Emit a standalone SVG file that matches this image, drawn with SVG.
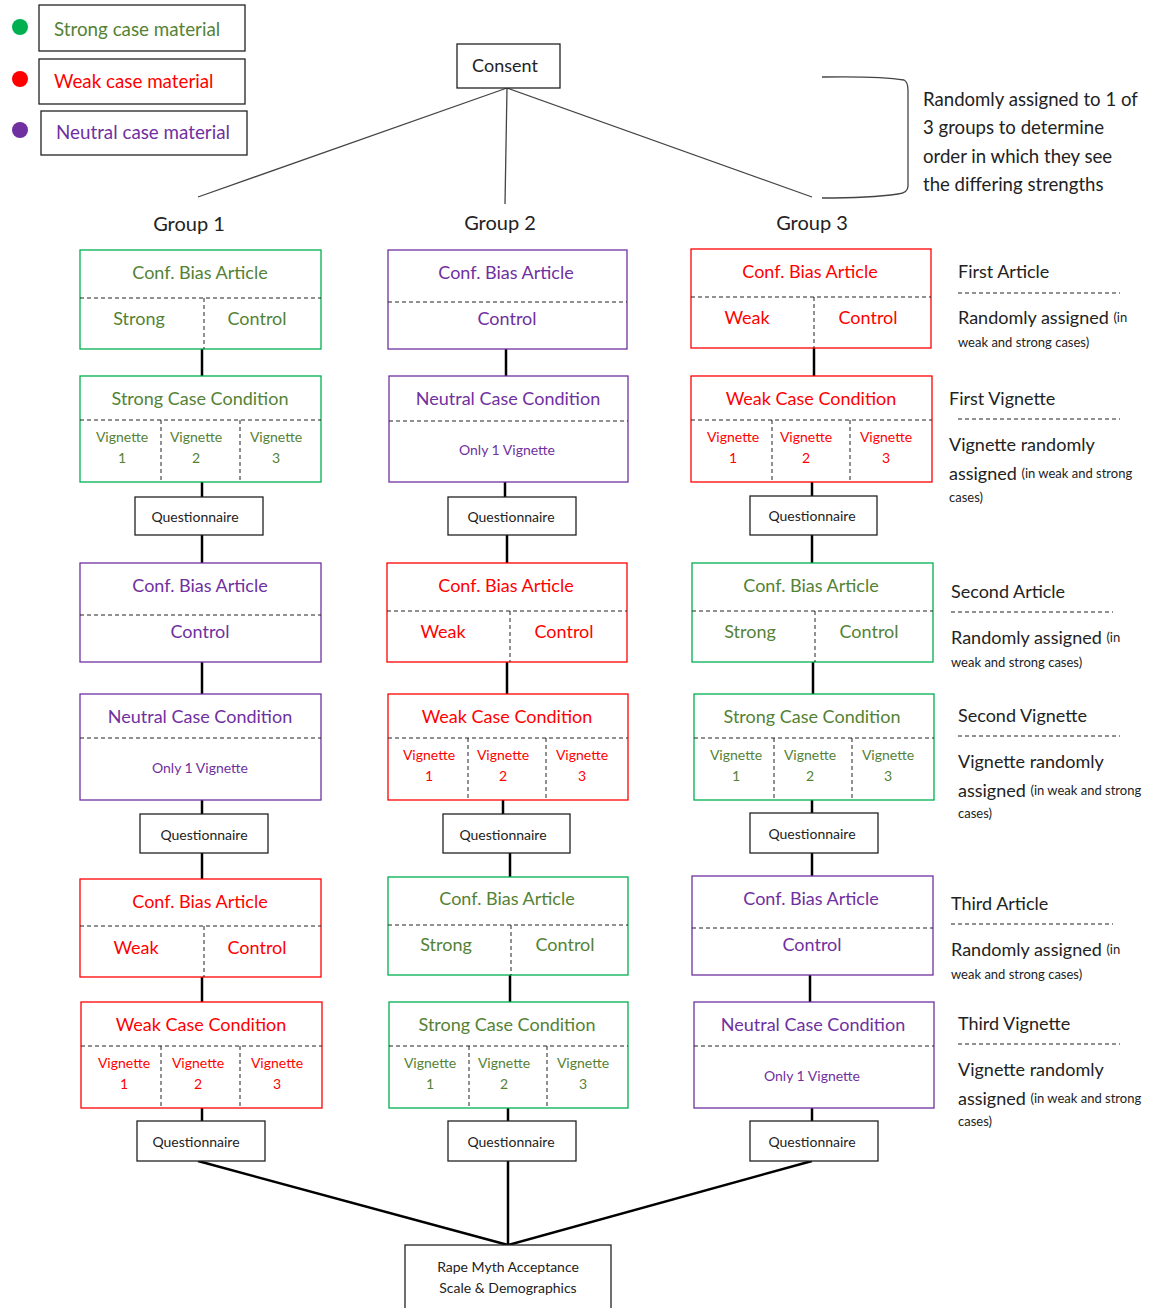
<svg xmlns="http://www.w3.org/2000/svg" width="1156" height="1308" viewBox="0 0 1156 1308">
<style>
text{font-family:Lato,"Open Sans","Liberation Sans",sans-serif;dominant-baseline:central;}
.c{text-anchor:middle}
.t{font-size:18px}
.lg{font-size:18.8px}
.s{font-size:14px}
.n{font-size:18px;fill:#222}
.nb{font-size:18.6px;fill:#222}
.sm{font-size:13px;fill:#222}
.g{fill:#548235}
.r{fill:#ff0000}
.p{fill:#7030a0}
.k{fill:#222}
.bg{fill:#fff;stroke:#00b050;stroke-width:1.3}
.br{fill:#fff;stroke:#ff0000;stroke-width:1.3}
.bp{fill:#fff;stroke:#7030a0;stroke-width:1.3}
.bk{fill:#fff;stroke:#222;stroke-width:1.3}
.d{stroke:#222;stroke-width:1;stroke-dasharray:4,3;fill:none}
.con{stroke:#000;stroke-width:2.5;fill:none}
.thin{stroke:#444;stroke-width:1.3;fill:none}
</style>

<g id="legend">
<circle cx="20" cy="27" r="8" fill="#00b050"/>
<circle cx="20" cy="79" r="8" fill="#ff0000"/>
<circle cx="20" cy="130" r="8" fill="#7030a0"/>
<rect x="39" y="5" width="206" height="46" class="bk"/>
<rect x="39" y="59" width="206" height="45" class="bk"/>
<rect x="41" y="111" width="206" height="44" class="bk"/>
<text x="54" y="28" class="lg g">Strong case material</text>
<text x="54" y="80" class="lg r">Weak case material</text>
<text x="56" y="131" class="lg p">Neutral case material</text>
</g>

<g id="connectors">
<line x1="507" y1="88" x2="198" y2="197" class="thin"/>
<line x1="507" y1="88" x2="505" y2="204" class="thin"/>
<line x1="507" y1="88" x2="812" y2="197" class="thin"/>
<path d="M822 77 Q880 76 904 80 Q908 82 908 90 L908 186 Q908 193 898 194 Q870 198 822 198" class="thin"/>
<line x1="202" y1="349" x2="202" y2="376" class="con"/>
<line x1="202" y1="482" x2="202" y2="497" class="con"/>
<line x1="202" y1="535" x2="202" y2="563" class="con"/>
<line x1="202" y1="662" x2="202" y2="694" class="con"/>
<line x1="202" y1="800" x2="202" y2="814" class="con"/>
<line x1="202" y1="853" x2="202" y2="879" class="con"/>
<line x1="202" y1="977" x2="202" y2="1002" class="con"/>
<line x1="202" y1="1108" x2="202" y2="1121" class="con"/>
<line x1="506" y1="349" x2="506" y2="376" class="con"/>
<line x1="505" y1="482" x2="505" y2="497" class="con"/>
<line x1="507" y1="535" x2="507" y2="563" class="con"/>
<line x1="507" y1="662" x2="507" y2="694" class="con"/>
<line x1="503" y1="800" x2="503" y2="814" class="con"/>
<line x1="510" y1="853" x2="510" y2="877" class="con"/>
<line x1="510" y1="975" x2="510" y2="1002" class="con"/>
<line x1="508" y1="1108" x2="508" y2="1121" class="con"/>
<line x1="814" y1="348" x2="814" y2="376" class="con"/>
<line x1="812" y1="482" x2="812" y2="496" class="con"/>
<line x1="812" y1="535" x2="812" y2="563" class="con"/>
<line x1="813" y1="662" x2="813" y2="694" class="con"/>
<line x1="812" y1="800" x2="812" y2="813" class="con"/>
<line x1="812" y1="853" x2="812" y2="876" class="con"/>
<line x1="810" y1="975" x2="810" y2="1002" class="con"/>
<line x1="812" y1="1108" x2="812" y2="1121" class="con"/>
<line x1="198" y1="1161" x2="508" y2="1245" class="con"/>
<line x1="508" y1="1161" x2="508" y2="1245" class="con"/>
<line x1="812" y1="1161" x2="508" y2="1245" class="con"/>
</g>

<g id="consent">
<rect x="457" y="44" width="103" height="44" class="bk"/>
<text x="505" y="65" class="c n">Consent</text>
</g>

<g id="bracket-note">
<text x="923" y="99" class="nb">Randomly assigned to 1 of</text>
<text x="923" y="127" class="nb">3 groups to determine</text>
<text x="923" y="156" class="nb">order in which they see</text>
<text x="923" y="184" class="nb">the differing strengths</text>
</g>

<g id="group-labels">
<text x="189" y="223" class="c k" font-size="20">Group 1</text>
<text x="500" y="222" class="c k" font-size="20">Group 2</text>
<text x="812" y="222" class="c k" font-size="20">Group 3</text>
</g>

<g id="g1-article1">
<rect x="80" y="250" width="241" height="99" class="bg"/>
<line x1="80" y1="298" x2="321" y2="298" class="d"/>
<line x1="204" y1="298" x2="204" y2="349" class="d"/>
<text x="200" y="272" class="c t g">Conf. Bias Article</text>
<text x="139" y="318" class="c t g">Strong</text>
<text x="257" y="318" class="c t g">Control</text>
</g>
<g id="g1-cond1">
<rect x="80" y="376" width="241" height="106" class="bg"/>
<line x1="80" y1="420" x2="321" y2="420" class="d"/>
<line x1="161" y1="420" x2="161" y2="482" class="d"/>
<line x1="240" y1="420" x2="240" y2="482" class="d"/>
<text x="200" y="398" class="c t g">Strong Case Condition</text>
<text x="122" y="436" class="c s g">Vignette</text><text x="122" y="457" class="c s g">1</text>
<text x="196" y="436" class="c s g">Vignette</text><text x="196" y="457" class="c s g">2</text>
<text x="276" y="436" class="c s g">Vignette</text><text x="276" y="457" class="c s g">3</text>
</g>
<g id="g1-q1">
<rect x="135" y="497" width="128" height="38" class="bk"/>
<text x="195" y="516" class="c s k">Questionnaire</text>
</g>
<g id="g1-article2">
<rect x="80" y="563" width="241" height="99" class="bp"/>
<line x1="80" y1="615" x2="321" y2="615" class="d"/>
<text x="200" y="585" class="c t p">Conf. Bias Article</text>
<text x="200" y="631" class="c t p">Control</text>
</g>
<g id="g1-cond2">
<rect x="80" y="694" width="241" height="106" class="bp"/>
<line x1="80" y1="738" x2="321" y2="738" class="d"/>
<text x="200" y="716" class="c t p">Neutral Case Condition</text>
<text x="200" y="767" class="c s p">Only 1 Vignette</text>
</g>
<g id="g1-q2">
<rect x="140" y="814" width="128" height="39" class="bk"/>
<text x="204" y="834" class="c s k">Questionnaire</text>
</g>
<g id="g1-article3">
<rect x="80" y="879" width="241" height="98" class="br"/>
<line x1="80" y1="926" x2="321" y2="926" class="d"/>
<line x1="204" y1="926" x2="204" y2="977" class="d"/>
<text x="200" y="901" class="c t r">Conf. Bias Article</text>
<text x="136" y="947" class="c t r">Weak</text>
<text x="257" y="947" class="c t r">Control</text>
</g>
<g id="g1-cond3">
<rect x="81" y="1002" width="241" height="106" class="br"/>
<line x1="81" y1="1046" x2="322" y2="1046" class="d"/>
<line x1="161" y1="1046" x2="161" y2="1108" class="d"/>
<line x1="240" y1="1046" x2="240" y2="1108" class="d"/>
<text x="201" y="1024" class="c t r">Weak Case Condition</text>
<text x="124" y="1062" class="c s r">Vignette</text><text x="124" y="1083" class="c s r">1</text>
<text x="198" y="1062" class="c s r">Vignette</text><text x="198" y="1083" class="c s r">2</text>
<text x="277" y="1062" class="c s r">Vignette</text><text x="277" y="1083" class="c s r">3</text>
</g>
<g id="g1-q3">
<rect x="137" y="1121" width="128" height="40" class="bk"/>
<text x="196" y="1141" class="c s k">Questionnaire</text>
</g>

<g id="g2-article1">
<rect x="388" y="250" width="239" height="99" class="bp"/>
<line x1="388" y1="302" x2="627" y2="302" class="d"/>
<text x="506" y="272" class="c t p">Conf. Bias Article</text>
<text x="507" y="318" class="c t p">Control</text>
</g>
<g id="g2-cond1">
<rect x="389" y="376" width="239" height="106" class="bp"/>
<line x1="389" y1="421" x2="628" y2="421" class="d"/>
<text x="508" y="398" class="c t p">Neutral Case Condition</text>
<text x="507" y="449" class="c s p">Only 1 Vignette</text>
</g>
<g id="g2-q1">
<rect x="448" y="497" width="128" height="38" class="bk"/>
<text x="511" y="516" class="c s k">Questionnaire</text>
</g>
<g id="g2-article2">
<rect x="387" y="563" width="240" height="99" class="br"/>
<line x1="387" y1="611" x2="627" y2="611" class="d"/>
<line x1="510" y1="611" x2="510" y2="662" class="d"/>
<text x="506" y="585" class="c t r">Conf. Bias Article</text>
<text x="443" y="631" class="c t r">Weak</text>
<text x="564" y="631" class="c t r">Control</text>
</g>
<g id="g2-cond2">
<rect x="388" y="694" width="240" height="106" class="br"/>
<line x1="388" y1="738" x2="628" y2="738" class="d"/>
<line x1="468" y1="738" x2="468" y2="800" class="d"/>
<line x1="546" y1="738" x2="546" y2="800" class="d"/>
<text x="507" y="716" class="c t r">Weak Case Condition</text>
<text x="429" y="754" class="c s r">Vignette</text><text x="429" y="775" class="c s r">1</text>
<text x="503" y="754" class="c s r">Vignette</text><text x="503" y="775" class="c s r">2</text>
<text x="582" y="754" class="c s r">Vignette</text><text x="582" y="775" class="c s r">3</text>
</g>
<g id="g2-q2">
<rect x="443" y="814" width="127" height="39" class="bk"/>
<text x="503" y="834" class="c s k">Questionnaire</text>
</g>
<g id="g2-article3">
<rect x="388" y="877" width="240" height="98" class="bg"/>
<line x1="388" y1="925" x2="628" y2="925" class="d"/>
<line x1="511" y1="925" x2="511" y2="975" class="d"/>
<text x="507" y="898" class="c t g">Conf. Bias Article</text>
<text x="446" y="944" class="c t g">Strong</text>
<text x="565" y="944" class="c t g">Control</text>
</g>
<g id="g2-cond3">
<rect x="389" y="1002" width="239" height="106" class="bg"/>
<line x1="389" y1="1046" x2="628" y2="1046" class="d"/>
<line x1="469" y1="1046" x2="469" y2="1108" class="d"/>
<line x1="547" y1="1046" x2="547" y2="1108" class="d"/>
<text x="507" y="1024" class="c t g">Strong Case Condition</text>
<text x="430" y="1062" class="c s g">Vignette</text><text x="430" y="1083" class="c s g">1</text>
<text x="504" y="1062" class="c s g">Vignette</text><text x="504" y="1083" class="c s g">2</text>
<text x="583" y="1062" class="c s g">Vignette</text><text x="583" y="1083" class="c s g">3</text>
</g>
<g id="g2-q3">
<rect x="448" y="1121" width="128" height="40" class="bk"/>
<text x="511" y="1141" class="c s k">Questionnaire</text>
</g>

<g id="g3-article1">
<rect x="691" y="249" width="240" height="99" class="br"/>
<line x1="691" y1="297" x2="931" y2="297" class="d"/>
<line x1="814" y1="297" x2="814" y2="348" class="d"/>
<text x="810" y="271" class="c t r">Conf. Bias Article</text>
<text x="747" y="317" class="c t r">Weak</text>
<text x="868" y="317" class="c t r">Control</text>
</g>
<g id="g3-cond1">
<rect x="691" y="376" width="241" height="106" class="br"/>
<line x1="691" y1="420" x2="932" y2="420" class="d"/>
<line x1="772" y1="420" x2="772" y2="482" class="d"/>
<line x1="850" y1="420" x2="850" y2="482" class="d"/>
<text x="811" y="398" class="c t r">Weak Case Condition</text>
<text x="733" y="436" class="c s r">Vignette</text><text x="733" y="457" class="c s r">1</text>
<text x="806" y="436" class="c s r">Vignette</text><text x="806" y="457" class="c s r">2</text>
<text x="886" y="436" class="c s r">Vignette</text><text x="886" y="457" class="c s r">3</text>
</g>
<g id="g3-q1">
<rect x="750" y="496" width="127" height="39" class="bk"/>
<text x="812" y="515" class="c s k">Questionnaire</text>
</g>
<g id="g3-article2">
<rect x="692" y="563" width="241" height="99" class="bg"/>
<line x1="692" y1="611" x2="933" y2="611" class="d"/>
<line x1="815" y1="611" x2="815" y2="662" class="d"/>
<text x="811" y="585" class="c t g">Conf. Bias Article</text>
<text x="750" y="631" class="c t g">Strong</text>
<text x="869" y="631" class="c t g">Control</text>
</g>
<g id="g3-cond2">
<rect x="694" y="694" width="240" height="106" class="bg"/>
<line x1="694" y1="738" x2="934" y2="738" class="d"/>
<line x1="774" y1="738" x2="774" y2="800" class="d"/>
<line x1="852" y1="738" x2="852" y2="800" class="d"/>
<text x="812" y="716" class="c t g">Strong Case Condition</text>
<text x="736" y="754" class="c s g">Vignette</text><text x="736" y="775" class="c s g">1</text>
<text x="810" y="754" class="c s g">Vignette</text><text x="810" y="775" class="c s g">2</text>
<text x="888" y="754" class="c s g">Vignette</text><text x="888" y="775" class="c s g">3</text>
</g>
<g id="g3-q2">
<rect x="750" y="813" width="128" height="40" class="bk"/>
<text x="812" y="833" class="c s k">Questionnaire</text>
</g>
<g id="g3-article3">
<rect x="692" y="876" width="241" height="99" class="bp"/>
<line x1="692" y1="928" x2="933" y2="928" class="d"/>
<text x="811" y="898" class="c t p">Conf. Bias Article</text>
<text x="812" y="944" class="c t p">Control</text>
</g>
<g id="g3-cond3">
<rect x="694" y="1002" width="240" height="106" class="bp"/>
<line x1="694" y1="1046" x2="934" y2="1046" class="d"/>
<text x="813" y="1024" class="c t p">Neutral Case Condition</text>
<text x="812" y="1075" class="c s p">Only 1 Vignette</text>
</g>
<g id="g3-q3">
<rect x="750" y="1121" width="128" height="40" class="bk"/>
<text x="812" y="1141" class="c s k">Questionnaire</text>
</g>

<g id="final">
<rect x="405" y="1245" width="206" height="70" class="bk"/>
<text x="508" y="1266" class="c s k">Rape Myth Acceptance</text>
<text x="508" y="1287" class="c s k">Scale &amp; Demographics</text>
</g>

<g id="annotations">
<text x="958" y="271" class="n">First Article</text>
<line x1="958" y1="293" x2="1120" y2="293" class="d"/>
<text x="958" y="317" class="n">Randomly assigned <tspan class="sm">(in</tspan></text>
<text x="958" y="342" class="sm">weak and strong cases)</text>

<text x="949" y="398" class="n">First Vignette</text>
<line x1="958" y1="419" x2="1120" y2="419" class="d"/>
<text x="949" y="444" class="n">Vignette randomly</text>
<text x="949" y="473" class="n">assigned <tspan class="sm">(in weak and strong</tspan></text>
<text x="949" y="497" class="sm">cases)</text>

<text x="951" y="591" class="n">Second Article</text>
<line x1="951" y1="612" x2="1113" y2="612" class="d"/>
<text x="951" y="637" class="n">Randomly assigned <tspan class="sm">(in</tspan></text>
<text x="951" y="662" class="sm">weak and strong cases)</text>

<text x="958" y="715" class="n">Second Vignette</text>
<line x1="958" y1="736" x2="1120" y2="736" class="d"/>
<text x="958" y="761" class="n">Vignette randomly</text>
<text x="958" y="790" class="n">assigned <tspan class="sm">(in weak and strong</tspan></text>
<text x="958" y="813" class="sm">cases)</text>

<text x="951" y="903" class="n">Third Article</text>
<line x1="951" y1="924" x2="1113" y2="924" class="d"/>
<text x="951" y="949" class="n">Randomly assigned <tspan class="sm">(in</tspan></text>
<text x="951" y="974" class="sm">weak and strong cases)</text>

<text x="958" y="1023" class="n">Third Vignette</text>
<line x1="958" y1="1044" x2="1120" y2="1044" class="d"/>
<text x="958" y="1069" class="n">Vignette randomly</text>
<text x="958" y="1098" class="n">assigned <tspan class="sm">(in weak and strong</tspan></text>
<text x="958" y="1121" class="sm">cases)</text>
</g>
</svg>
